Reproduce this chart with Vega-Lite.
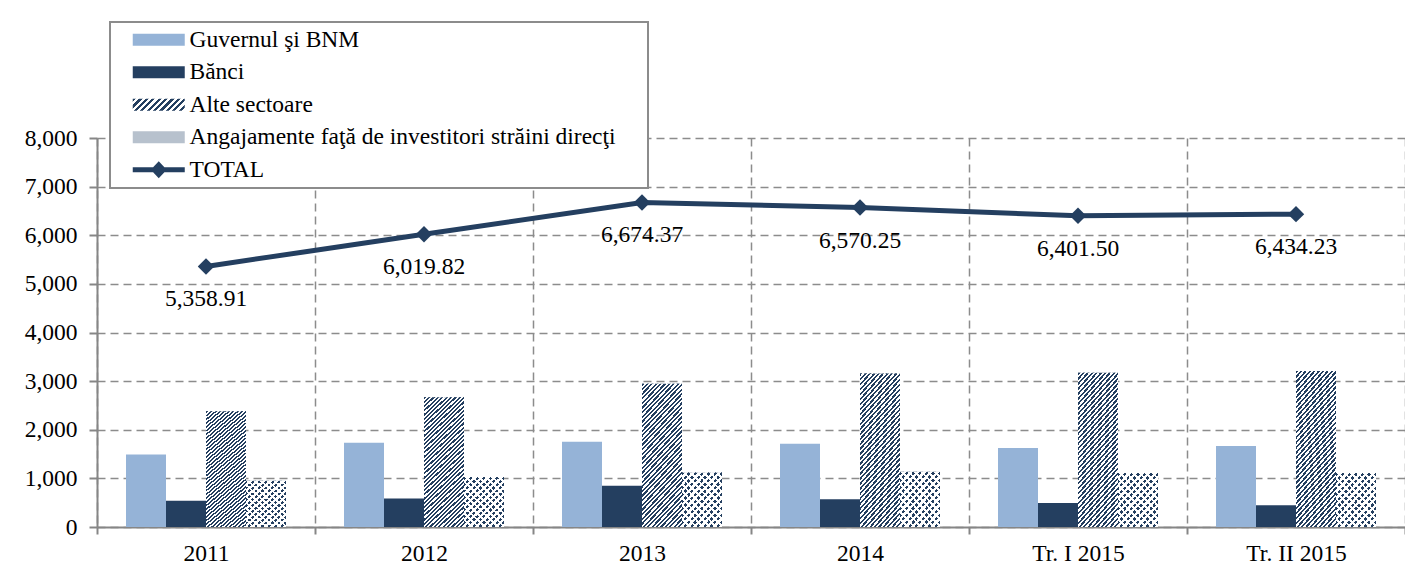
{
  "$schema": "https://vega.github.io/schema/vega-lite/v6.json",
  "width": 1308,
  "height": 389,
  "autosize": {"type": "none"},
  "padding": {"left": 97, "top": 138, "right": 0, "bottom": 51},
  "background": "white",
  "datasets": {
    "bars": [
      {"period": "2011", "series": "Guvernul şi BNM", "value": 1490},
      {"period": "2011", "series": "Bănci", "value": 540},
      {"period": "2011", "series": "Alte sectoare", "value": 2380},
      {"period": "2011", "series": "Angajamente faţă de investitori străini direcţi", "value": 950},
      {"period": "2012", "series": "Guvernul şi BNM", "value": 1735},
      {"period": "2012", "series": "Bănci", "value": 585},
      {"period": "2012", "series": "Alte sectoare", "value": 2670},
      {"period": "2012", "series": "Angajamente faţă de investitori străini direcţi", "value": 1030},
      {"period": "2013", "series": "Guvernul şi BNM", "value": 1755},
      {"period": "2013", "series": "Bănci", "value": 850},
      {"period": "2013", "series": "Alte sectoare", "value": 2945},
      {"period": "2013", "series": "Angajamente faţă de investitori străini direcţi", "value": 1124},
      {"period": "2014", "series": "Guvernul şi BNM", "value": 1710},
      {"period": "2014", "series": "Bănci", "value": 570},
      {"period": "2014", "series": "Alte sectoare", "value": 3155},
      {"period": "2014", "series": "Angajamente faţă de investitori străini direcţi", "value": 1135},
      {"period": "Tr. I 2015", "series": "Guvernul şi BNM", "value": 1625},
      {"period": "Tr. I 2015", "series": "Bănci", "value": 495},
      {"period": "Tr. I 2015", "series": "Alte sectoare", "value": 3170},
      {"period": "Tr. I 2015", "series": "Angajamente faţă de investitori străini direcţi", "value": 1111},
      {"period": "Tr. II 2015", "series": "Guvernul şi BNM", "value": 1665},
      {"period": "Tr. II 2015", "series": "Bănci", "value": 447},
      {"period": "Tr. II 2015", "series": "Alte sectoare", "value": 3210},
      {"period": "Tr. II 2015", "series": "Angajamente faţă de investitori străini direcţi", "value": 1112}
    ],
    "totals": [
      {"period": "2011", "total": 5358.91},
      {"period": "2012", "total": 6019.82},
      {"period": "2013", "total": 6674.37},
      {"period": "2014", "total": 6570.25},
      {"period": "Tr. I 2015", "total": 6401.50},
      {"period": "Tr. II 2015", "total": 6434.23}
    ]
  },
  "config": {
    "font": "Liberation Serif",
    "view": {"stroke": null},
    "style": {
      "guide-label": {"font": "Liberation Serif", "fontSize": 23.5, "fill": "#000000"},
      "guide-title": {"font": "Liberation Serif", "fontSize": 23.5}
    },
    "axis": {
      "title": null,
      "labelFont": "Liberation Serif",
      "labelFontSize": 23.5,
      "labelColor": "#000000",
      "domainColor": "#868686",
      "domainWidth": 2,
      "tickColor": "#868686",
      "tickWidth": 2,
      "gridColor": "#8c8c8c",
      "gridDash": [8, 5],
      "gridWidth": 1.5
    },
    "legend": {
      "labelFont": "Liberation Serif",
      "labelFontSize": 23.5,
      "labelColor": "#000000",
      "titleFont": "Liberation Serif",
      "titleFontSize": 23.5
    }
  },
  "layer": [
    {
      "data": {"name": "bars"},
      "mark": {"type": "bar"},
      "encoding": {
        "x": {
          "field": "period", "type": "nominal",
          "scale": {"domain": ["2011", "2012", "2013", "2014", "Tr. I 2015", "Tr. II 2015"], "paddingInner": 0, "paddingOuter": 0},
          "axis": {"tickBand": "extent", "grid": true, "tickSize": 7, "labelPadding": 7, "labelAngle": 0}
        },
        "xOffset": {
          "field": "series", "type": "nominal",
          "scale": {"domain": ["Guvernul şi BNM", "Bănci", "Alte sectoare", "Angajamente faţă de investitori străini direcţi"], "paddingInner": 0, "paddingOuter": 0.725}
        },
        "y": {
          "field": "value", "type": "quantitative",
          "scale": {"domain": [0, 8000], "nice": false},
          "axis": {"values": [0, 1000, 2000, 3000, 4000, 5000, 6000, 7000, 8000], "format": ",d", "tickSize": 8, "labelPadding": 12, "grid": true}
        },
        "color": {
          "field": "series", "type": "nominal",
          "scale": {
            "domain": ["Guvernul şi BNM", "Bănci", "Alte sectoare", "Angajamente faţă de investitori străini direcţi", "TOTAL"],
            "range": ["#95b3d7", "#243f60",
              {"expr": "{gradient: 'linear', x1: 0, y1: 0, x2: 1.1686, y2: 0.2697, stops: [{offset: 0, color: '#243f60'}, {offset: 0.05, color: '#243f60'}, {offset: 0.05, color: '#ffffff'}, {offset: 0.1, color: '#ffffff'}, {offset: 0.1, color: '#243f60'}, {offset: 0.15, color: '#243f60'}, {offset: 0.15, color: '#ffffff'}, {offset: 0.2, color: '#ffffff'}, {offset: 0.2, color: '#243f60'}, {offset: 0.25, color: '#243f60'}, {offset: 0.25, color: '#ffffff'}, {offset: 0.3, color: '#ffffff'}, {offset: 0.3, color: '#243f60'}, {offset: 0.35, color: '#243f60'}, {offset: 0.35, color: '#ffffff'}, {offset: 0.4, color: '#ffffff'}, {offset: 0.4, color: '#243f60'}, {offset: 0.45, color: '#243f60'}, {offset: 0.45, color: '#ffffff'}, {offset: 0.5, color: '#ffffff'}, {offset: 0.5, color: '#243f60'}, {offset: 0.55, color: '#243f60'}, {offset: 0.55, color: '#ffffff'}, {offset: 0.6, color: '#ffffff'}, {offset: 0.6, color: '#243f60'}, {offset: 0.65, color: '#243f60'}, {offset: 0.65, color: '#ffffff'}, {offset: 0.7, color: '#ffffff'}, {offset: 0.7, color: '#243f60'}, {offset: 0.75, color: '#243f60'}, {offset: 0.75, color: '#ffffff'}, {offset: 0.8, color: '#ffffff'}, {offset: 0.8, color: '#243f60'}, {offset: 0.85, color: '#243f60'}, {offset: 0.85, color: '#ffffff'}, {offset: 0.9, color: '#ffffff'}, {offset: 0.9, color: '#243f60'}, {offset: 0.95, color: '#243f60'}, {offset: 0.95, color: '#ffffff'}, {offset: 1, color: '#ffffff'}]}"},
              "#b7c1cd", "#243f60"]
          },
          "legend": {
            "title": " ",
            "titleOrient": "right",
            "titlePadding": 26,
            "titleFont": "Liberation Serif",
            "titleFontSize": 23.5,
            "orient": "none",
            "legendX": 13,
            "legendY": -116,
            "padding": 6,
            "rowPadding": 7.5,
            "strokeColor": "#8c8c8c",
            "fillColor": "#ffffff",
            "labelFont": "Liberation Serif",
            "labelFontSize": 23.5,
            "labelColor": "#000000",
            "labelLimit": 0,
            "symbolSize": 400,
            "symbolOffset": 31,
            "labelOffset": 19,
            "symbolStrokeWidth": 0,
            "encode": {
              "legend": {"update": {"strokeWidth": {"value": 2}}},
              "symbols": {
                "update": {
                  "shape": {"signal": "datum.value === 'TOTAL' ? 'M-2.6,-0.25H2.6V0.25H-2.6ZM0,-0.85L0.8,0L0,0.85L-0.8,0Z' : 'M-2.6,-0.6H2.6V0.6H-2.6Z'"}
                }
              }
            }
          }
        }
      }
    },
    {
      "data": {"name": "bars"},
      "transform": [{"filter": "datum.series === 'Angajamente faţă de investitori străini direcţi'"}],
      "mark": {"type": "bar", "fill": "#ffffff"},
      "encoding": {
        "x": {"field": "period", "type": "nominal"},
        "xOffset": {"field": "series", "type": "nominal", "scale": {"domain": ["Guvernul şi BNM", "Bănci", "Alte sectoare", "Angajamente faţă de investitori străini direcţi"]}},
        "y": {"field": "value", "type": "quantitative"}
      }
    },
    {
      "data": {"name": "bars"},
      "transform": [{"filter": "datum.series === 'Angajamente faţă de investitori străini direcţi'"}],
      "mark": {"type": "bar", "fill": {"gradient": "linear", "x1": 0, "y1": 0, "x2": 0.855, "y2": 1.1115, "stops": [
        {"offset": 0, "color": "#243f60"}, {"offset": 0.0357, "color": "#243f60"}, {"offset": 0.0357, "color": "rgba(255,255,255,0)"}, {"offset": 0.0714, "color": "rgba(255,255,255,0)"},
        {"offset": 0.0714, "color": "#243f60"}, {"offset": 0.1071, "color": "#243f60"}, {"offset": 0.1071, "color": "rgba(255,255,255,0)"}, {"offset": 0.1429, "color": "rgba(255,255,255,0)"},
        {"offset": 0.1429, "color": "#243f60"}, {"offset": 0.1786, "color": "#243f60"}, {"offset": 0.1786, "color": "rgba(255,255,255,0)"}, {"offset": 0.2143, "color": "rgba(255,255,255,0)"},
        {"offset": 0.2143, "color": "#243f60"}, {"offset": 0.25, "color": "#243f60"}, {"offset": 0.25, "color": "rgba(255,255,255,0)"}, {"offset": 0.2857, "color": "rgba(255,255,255,0)"},
        {"offset": 0.2857, "color": "#243f60"}, {"offset": 0.3214, "color": "#243f60"}, {"offset": 0.3214, "color": "rgba(255,255,255,0)"}, {"offset": 0.3571, "color": "rgba(255,255,255,0)"},
        {"offset": 0.3571, "color": "#243f60"}, {"offset": 0.3929, "color": "#243f60"}, {"offset": 0.3929, "color": "rgba(255,255,255,0)"}, {"offset": 0.4286, "color": "rgba(255,255,255,0)"},
        {"offset": 0.4286, "color": "#243f60"}, {"offset": 0.4643, "color": "#243f60"}, {"offset": 0.4643, "color": "rgba(255,255,255,0)"}, {"offset": 0.5, "color": "rgba(255,255,255,0)"},
        {"offset": 0.5, "color": "#243f60"}, {"offset": 0.5357, "color": "#243f60"}, {"offset": 0.5357, "color": "rgba(255,255,255,0)"}, {"offset": 0.5714, "color": "rgba(255,255,255,0)"},
        {"offset": 0.5714, "color": "#243f60"}, {"offset": 0.6071, "color": "#243f60"}, {"offset": 0.6071, "color": "rgba(255,255,255,0)"}, {"offset": 0.6429, "color": "rgba(255,255,255,0)"},
        {"offset": 0.6429, "color": "#243f60"}, {"offset": 0.6786, "color": "#243f60"}, {"offset": 0.6786, "color": "rgba(255,255,255,0)"}, {"offset": 0.7143, "color": "rgba(255,255,255,0)"},
        {"offset": 0.7143, "color": "#243f60"}, {"offset": 0.75, "color": "#243f60"}, {"offset": 0.75, "color": "rgba(255,255,255,0)"}, {"offset": 0.7857, "color": "rgba(255,255,255,0)"},
        {"offset": 0.7857, "color": "#243f60"}, {"offset": 0.8214, "color": "#243f60"}, {"offset": 0.8214, "color": "rgba(255,255,255,0)"}, {"offset": 0.8571, "color": "rgba(255,255,255,0)"},
        {"offset": 0.8571, "color": "#243f60"}, {"offset": 0.8929, "color": "#243f60"}, {"offset": 0.8929, "color": "rgba(255,255,255,0)"}, {"offset": 0.9286, "color": "rgba(255,255,255,0)"},
        {"offset": 0.9286, "color": "#243f60"}, {"offset": 0.9643, "color": "#243f60"}, {"offset": 0.9643, "color": "rgba(255,255,255,0)"}, {"offset": 1, "color": "rgba(255,255,255,0)"}
      ]}},
      "encoding": {
        "x": {"field": "period", "type": "nominal"},
        "xOffset": {"field": "series", "type": "nominal", "scale": {"domain": ["Guvernul şi BNM", "Bănci", "Alte sectoare", "Angajamente faţă de investitori străini direcţi"]}},
        "y": {"field": "value", "type": "quantitative"}
      }
    },
    {
      "data": {"name": "bars"},
      "transform": [{"filter": "datum.series === 'Angajamente faţă de investitori străini direcţi'"}],
      "mark": {"type": "bar", "fill": {"gradient": "linear", "x1": 0, "y1": 1, "x2": 0.855, "y2": -0.1115, "stops": [
        {"offset": 0, "color": "#ffffff"}, {"offset": 0.0286, "color": "#ffffff"}, {"offset": 0.0286, "color": "rgba(255,255,255,0)"}, {"offset": 0.0714, "color": "rgba(255,255,255,0)"},
        {"offset": 0.0714, "color": "#ffffff"}, {"offset": 0.1, "color": "#ffffff"}, {"offset": 0.1, "color": "rgba(255,255,255,0)"}, {"offset": 0.1429, "color": "rgba(255,255,255,0)"},
        {"offset": 0.1429, "color": "#ffffff"}, {"offset": 0.1714, "color": "#ffffff"}, {"offset": 0.1714, "color": "rgba(255,255,255,0)"}, {"offset": 0.2143, "color": "rgba(255,255,255,0)"},
        {"offset": 0.2143, "color": "#ffffff"}, {"offset": 0.2429, "color": "#ffffff"}, {"offset": 0.2429, "color": "rgba(255,255,255,0)"}, {"offset": 0.2857, "color": "rgba(255,255,255,0)"},
        {"offset": 0.2857, "color": "#ffffff"}, {"offset": 0.3143, "color": "#ffffff"}, {"offset": 0.3143, "color": "rgba(255,255,255,0)"}, {"offset": 0.3571, "color": "rgba(255,255,255,0)"},
        {"offset": 0.3571, "color": "#ffffff"}, {"offset": 0.3857, "color": "#ffffff"}, {"offset": 0.3857, "color": "rgba(255,255,255,0)"}, {"offset": 0.4286, "color": "rgba(255,255,255,0)"},
        {"offset": 0.4286, "color": "#ffffff"}, {"offset": 0.4571, "color": "#ffffff"}, {"offset": 0.4571, "color": "rgba(255,255,255,0)"}, {"offset": 0.5, "color": "rgba(255,255,255,0)"},
        {"offset": 0.5, "color": "#ffffff"}, {"offset": 0.5286, "color": "#ffffff"}, {"offset": 0.5286, "color": "rgba(255,255,255,0)"}, {"offset": 0.5714, "color": "rgba(255,255,255,0)"},
        {"offset": 0.5714, "color": "#ffffff"}, {"offset": 0.6, "color": "#ffffff"}, {"offset": 0.6, "color": "rgba(255,255,255,0)"}, {"offset": 0.6429, "color": "rgba(255,255,255,0)"},
        {"offset": 0.6429, "color": "#ffffff"}, {"offset": 0.6714, "color": "#ffffff"}, {"offset": 0.6714, "color": "rgba(255,255,255,0)"}, {"offset": 0.7143, "color": "rgba(255,255,255,0)"},
        {"offset": 0.7143, "color": "#ffffff"}, {"offset": 0.7429, "color": "#ffffff"}, {"offset": 0.7429, "color": "rgba(255,255,255,0)"}, {"offset": 0.7857, "color": "rgba(255,255,255,0)"},
        {"offset": 0.7857, "color": "#ffffff"}, {"offset": 0.8143, "color": "#ffffff"}, {"offset": 0.8143, "color": "rgba(255,255,255,0)"}, {"offset": 0.8571, "color": "rgba(255,255,255,0)"},
        {"offset": 0.8571, "color": "#ffffff"}, {"offset": 0.8857, "color": "#ffffff"}, {"offset": 0.8857, "color": "rgba(255,255,255,0)"}, {"offset": 0.9286, "color": "rgba(255,255,255,0)"},
        {"offset": 0.9286, "color": "#ffffff"}, {"offset": 0.9571, "color": "#ffffff"}, {"offset": 0.9571, "color": "rgba(255,255,255,0)"}, {"offset": 1, "color": "rgba(255,255,255,0)"}
      ]}},
      "encoding": {
        "x": {"field": "period", "type": "nominal"},
        "xOffset": {"field": "series", "type": "nominal", "scale": {"domain": ["Guvernul şi BNM", "Bănci", "Alte sectoare", "Angajamente faţă de investitori străini direcţi"]}},
        "y": {"field": "value", "type": "quantitative"}
      }
    },
    {
      "data": {"name": "bars"},
      "transform": [{"filter": "datum.series === 'Alte sectoare'"}],
      "mark": {"type": "bar", "fill": {"gradient": "linear", "x1": 0, "y1": 0, "x2": 0.3503, "y2": 1.191, "stops": [
        {"offset": 0, "color": "#243f60"}, {"offset": 0.0125, "color": "#243f60"}, {"offset": 0.0125, "color": "#ffffff"}, {"offset": 0.025, "color": "#ffffff"},
        {"offset": 0.025, "color": "#243f60"}, {"offset": 0.0375, "color": "#243f60"}, {"offset": 0.0375, "color": "#ffffff"}, {"offset": 0.05, "color": "#ffffff"},
        {"offset": 0.05, "color": "#243f60"}, {"offset": 0.0625, "color": "#243f60"}, {"offset": 0.0625, "color": "#ffffff"}, {"offset": 0.075, "color": "#ffffff"},
        {"offset": 0.075, "color": "#243f60"}, {"offset": 0.0875, "color": "#243f60"}, {"offset": 0.0875, "color": "#ffffff"}, {"offset": 0.1, "color": "#ffffff"},
        {"offset": 0.1, "color": "#243f60"}, {"offset": 0.1125, "color": "#243f60"}, {"offset": 0.1125, "color": "#ffffff"}, {"offset": 0.125, "color": "#ffffff"},
        {"offset": 0.125, "color": "#243f60"}, {"offset": 0.1375, "color": "#243f60"}, {"offset": 0.1375, "color": "#ffffff"}, {"offset": 0.15, "color": "#ffffff"},
        {"offset": 0.15, "color": "#243f60"}, {"offset": 0.1625, "color": "#243f60"}, {"offset": 0.1625, "color": "#ffffff"}, {"offset": 0.175, "color": "#ffffff"},
        {"offset": 0.175, "color": "#243f60"}, {"offset": 0.1875, "color": "#243f60"}, {"offset": 0.1875, "color": "#ffffff"}, {"offset": 0.2, "color": "#ffffff"},
        {"offset": 0.2, "color": "#243f60"}, {"offset": 0.2125, "color": "#243f60"}, {"offset": 0.2125, "color": "#ffffff"}, {"offset": 0.225, "color": "#ffffff"},
        {"offset": 0.225, "color": "#243f60"}, {"offset": 0.2375, "color": "#243f60"}, {"offset": 0.2375, "color": "#ffffff"}, {"offset": 0.25, "color": "#ffffff"},
        {"offset": 0.25, "color": "#243f60"}, {"offset": 0.2625, "color": "#243f60"}, {"offset": 0.2625, "color": "#ffffff"}, {"offset": 0.275, "color": "#ffffff"},
        {"offset": 0.275, "color": "#243f60"}, {"offset": 0.2875, "color": "#243f60"}, {"offset": 0.2875, "color": "#ffffff"}, {"offset": 0.3, "color": "#ffffff"},
        {"offset": 0.3, "color": "#243f60"}, {"offset": 0.3125, "color": "#243f60"}, {"offset": 0.3125, "color": "#ffffff"}, {"offset": 0.325, "color": "#ffffff"},
        {"offset": 0.325, "color": "#243f60"}, {"offset": 0.3375, "color": "#243f60"}, {"offset": 0.3375, "color": "#ffffff"}, {"offset": 0.35, "color": "#ffffff"},
        {"offset": 0.35, "color": "#243f60"}, {"offset": 0.3625, "color": "#243f60"}, {"offset": 0.3625, "color": "#ffffff"}, {"offset": 0.375, "color": "#ffffff"},
        {"offset": 0.375, "color": "#243f60"}, {"offset": 0.3875, "color": "#243f60"}, {"offset": 0.3875, "color": "#ffffff"}, {"offset": 0.4, "color": "#ffffff"},
        {"offset": 0.4, "color": "#243f60"}, {"offset": 0.4125, "color": "#243f60"}, {"offset": 0.4125, "color": "#ffffff"}, {"offset": 0.425, "color": "#ffffff"},
        {"offset": 0.425, "color": "#243f60"}, {"offset": 0.4375, "color": "#243f60"}, {"offset": 0.4375, "color": "#ffffff"}, {"offset": 0.45, "color": "#ffffff"},
        {"offset": 0.45, "color": "#243f60"}, {"offset": 0.4625, "color": "#243f60"}, {"offset": 0.4625, "color": "#ffffff"}, {"offset": 0.475, "color": "#ffffff"},
        {"offset": 0.475, "color": "#243f60"}, {"offset": 0.4875, "color": "#243f60"}, {"offset": 0.4875, "color": "#ffffff"}, {"offset": 0.5, "color": "#ffffff"},
        {"offset": 0.5, "color": "#243f60"}, {"offset": 0.5125, "color": "#243f60"}, {"offset": 0.5125, "color": "#ffffff"}, {"offset": 0.525, "color": "#ffffff"},
        {"offset": 0.525, "color": "#243f60"}, {"offset": 0.5375, "color": "#243f60"}, {"offset": 0.5375, "color": "#ffffff"}, {"offset": 0.55, "color": "#ffffff"},
        {"offset": 0.55, "color": "#243f60"}, {"offset": 0.5625, "color": "#243f60"}, {"offset": 0.5625, "color": "#ffffff"}, {"offset": 0.575, "color": "#ffffff"},
        {"offset": 0.575, "color": "#243f60"}, {"offset": 0.5875, "color": "#243f60"}, {"offset": 0.5875, "color": "#ffffff"}, {"offset": 0.6, "color": "#ffffff"},
        {"offset": 0.6, "color": "#243f60"}, {"offset": 0.6125, "color": "#243f60"}, {"offset": 0.6125, "color": "#ffffff"}, {"offset": 0.625, "color": "#ffffff"},
        {"offset": 0.625, "color": "#243f60"}, {"offset": 0.6375, "color": "#243f60"}, {"offset": 0.6375, "color": "#ffffff"}, {"offset": 0.65, "color": "#ffffff"},
        {"offset": 0.65, "color": "#243f60"}, {"offset": 0.6625, "color": "#243f60"}, {"offset": 0.6625, "color": "#ffffff"}, {"offset": 0.675, "color": "#ffffff"},
        {"offset": 0.675, "color": "#243f60"}, {"offset": 0.6875, "color": "#243f60"}, {"offset": 0.6875, "color": "#ffffff"}, {"offset": 0.7, "color": "#ffffff"},
        {"offset": 0.7, "color": "#243f60"}, {"offset": 0.7125, "color": "#243f60"}, {"offset": 0.7125, "color": "#ffffff"}, {"offset": 0.725, "color": "#ffffff"},
        {"offset": 0.725, "color": "#243f60"}, {"offset": 0.7375, "color": "#243f60"}, {"offset": 0.7375, "color": "#ffffff"}, {"offset": 0.75, "color": "#ffffff"},
        {"offset": 0.75, "color": "#243f60"}, {"offset": 0.7625, "color": "#243f60"}, {"offset": 0.7625, "color": "#ffffff"}, {"offset": 0.775, "color": "#ffffff"},
        {"offset": 0.775, "color": "#243f60"}, {"offset": 0.7875, "color": "#243f60"}, {"offset": 0.7875, "color": "#ffffff"}, {"offset": 0.8, "color": "#ffffff"},
        {"offset": 0.8, "color": "#243f60"}, {"offset": 0.8125, "color": "#243f60"}, {"offset": 0.8125, "color": "#ffffff"}, {"offset": 0.825, "color": "#ffffff"},
        {"offset": 0.825, "color": "#243f60"}, {"offset": 0.8375, "color": "#243f60"}, {"offset": 0.8375, "color": "#ffffff"}, {"offset": 0.85, "color": "#ffffff"},
        {"offset": 0.85, "color": "#243f60"}, {"offset": 0.8625, "color": "#243f60"}, {"offset": 0.8625, "color": "#ffffff"}, {"offset": 0.875, "color": "#ffffff"},
        {"offset": 0.875, "color": "#243f60"}, {"offset": 0.8875, "color": "#243f60"}, {"offset": 0.8875, "color": "#ffffff"}, {"offset": 0.9, "color": "#ffffff"},
        {"offset": 0.9, "color": "#243f60"}, {"offset": 0.9125, "color": "#243f60"}, {"offset": 0.9125, "color": "#ffffff"}, {"offset": 0.925, "color": "#ffffff"},
        {"offset": 0.925, "color": "#243f60"}, {"offset": 0.9375, "color": "#243f60"}, {"offset": 0.9375, "color": "#ffffff"}, {"offset": 0.95, "color": "#ffffff"},
        {"offset": 0.95, "color": "#243f60"}, {"offset": 0.9625, "color": "#243f60"}, {"offset": 0.9625, "color": "#ffffff"}, {"offset": 0.975, "color": "#ffffff"},
        {"offset": 0.975, "color": "#243f60"}, {"offset": 0.9875, "color": "#243f60"}, {"offset": 0.9875, "color": "#ffffff"}, {"offset": 1, "color": "#ffffff"}
      ]}},
      "encoding": {
        "x": {"field": "period", "type": "nominal"},
        "xOffset": {"field": "series", "type": "nominal", "scale": {"domain": ["Guvernul şi BNM", "Bănci", "Alte sectoare", "Angajamente faţă de investitori străini direcţi"]}},
        "y": {"field": "value", "type": "quantitative"}
      }
    },
    {
      "data": {"name": "totals"},
      "mark": {"type": "line", "color": "#243f60", "strokeWidth": 5},
      "encoding": {
        "x": {"field": "period", "type": "nominal"},
        "y": {"field": "total", "type": "quantitative"}
      }
    },
    {
      "data": {"name": "totals"},
      "mark": {"type": "point", "shape": "diamond", "filled": true, "size": 270, "color": "#243f60", "opacity": 1},
      "encoding": {
        "x": {"field": "period", "type": "nominal"},
        "y": {"field": "total", "type": "quantitative"}
      }
    },
    {
      "data": {"name": "totals"},
      "mark": {"type": "text", "font": "Liberation Serif", "fontSize": 23.5, "color": "#000000", "dy": 33, "baseline": "middle", "align": "center"},
      "encoding": {
        "x": {"field": "period", "type": "nominal"},
        "y": {"field": "total", "type": "quantitative"},
        "text": {"field": "total", "type": "quantitative", "format": ",.2f"}
      }
    }
  ]
}
